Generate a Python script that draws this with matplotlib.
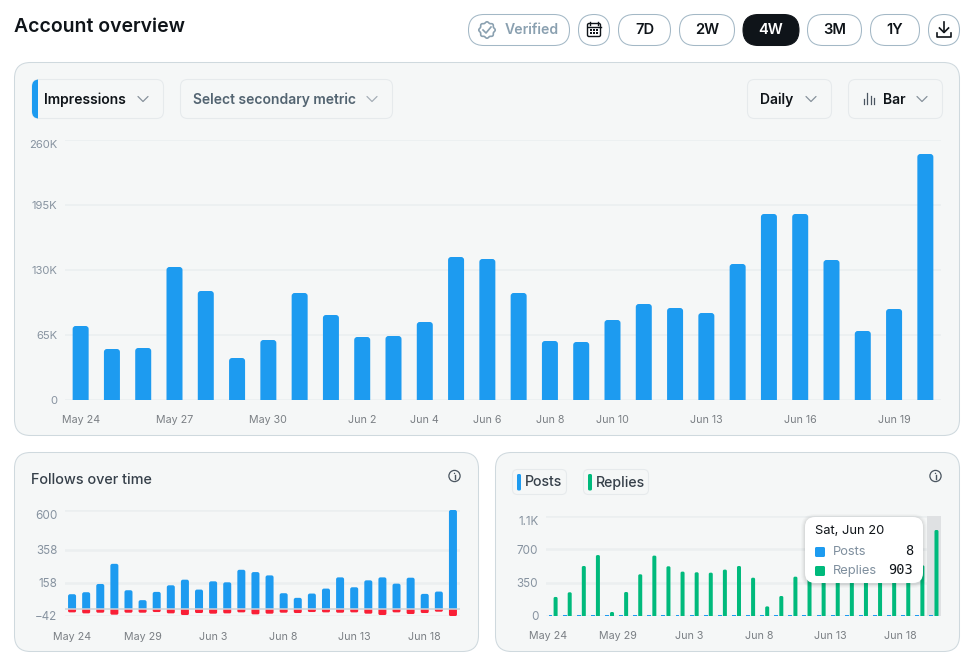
import numpy as np
import matplotlib
matplotlib.use('Agg')
import matplotlib.pyplot as plt
from matplotlib.patches import FancyBboxPatch, Rectangle, Circle, PathPatch, Polygon
from matplotlib.path import Path

plt.rcParams['font.family'] = ['Inter', 'DejaVu Sans']

W, H = 973, 660

# impressions per day, May 24 to Jun 20
impressions = [74, 51, 52, 133, 109, 42, 60, 107, 85, 63, 64, 78, 143, 141,
               107, 59, 58, 80, 96, 92, 87, 136, 186, 186, 140, 69, 91, 246]
impressions = [v * 1000 for v in impressions]
imp_ticks = [0, 65000, 130000, 195000, 260000]
imp_tick_labels = ['0', '65K', '130K', '195K', '260K']
imp_date_idx = [0, 3, 6, 9, 11, 13, 15, 17, 20, 23, 26]
imp_date_labels = ['May 24', 'May 27', 'May 30', 'Jun 2', 'Jun 4', 'Jun 6',
                   'Jun 8', 'Jun 10', 'Jun 13', 'Jun 16', 'Jun 19']

follows = [90, 102, 152, 274, 114, 54, 104, 144, 178, 118, 168, 162, 238, 224,
           204, 96, 68, 94, 124, 192, 132, 174, 192, 154, 190, 92, 106, 600]
unfollows = [-20, -26, -22, -34, -22, -22, -18, -26, -36, -24, -28, -26, -20, -32,
             -28, -22, -24, -18, -20, -22, -20, -28, -36, -20, -30, -24, -16, -42]
follow_ticks = [-42, 158, 358, 600]

posts = [9, 7, 10, 8, 6, 9, 8, 7, 10, 9, 8, 7, 12, 9,
         8, 7, 6, 9, 10, 8, 9, 7, 8, 9, 8, 7, 9, 8]
replies = [200, 249, 525, 640, 42, 252, 438, 634, 522, 466, 459, 455, 487, 525,
           402, 101, 210, 413, 450, 470, 500, 480, 460, 470, 490, 500, 532, 903]
reply_ticks = [0, 350, 700, 1050]
reply_tick_labels = ['0', '350', '700', '1.1K']

small_date_idx = [0, 5, 10, 15, 20, 25]
small_date_labels = ['May 24', 'May 29', 'Jun 3', 'Jun 8', 'Jun 13', 'Jun 18']

BLUE = '#1d9bf0'
GREEN = '#00ba7c'
RED = '#f91f36'
INK = '#0f1419'
PANEL = '#f5f7f7'
BORDER = '#cfd9de'
PILL = '#a3b8c6'
GRID = '#ebeff0'
SLATE = '#536471'
AXIS_GREY = '#8793a0'
DATE_GREY = '#7a7f84'

fig = plt.figure(figsize=(W / 100, H / 100), dpi=100, facecolor='white')


def pixel_axes(zorder):
    ax = fig.add_axes([0, 0, 1, 1], zorder=zorder)
    ax.set_xlim(0, W)
    ax.set_ylim(H, 0)
    ax.axis('off')
    ax.patch.set_alpha(0)
    return ax


def chart_axes(x0, x1, y0, y1):
    # position given in figure pixels, y measured from the top
    ax = fig.add_axes([x0 / W, 1 - y1 / H, (x1 - x0) / W, (y1 - y0) / H], zorder=1)
    ax.patch.set_alpha(0)
    for s in ax.spines.values():
        s.set_visible(False)
    ax.tick_params(length=0, pad=0)
    ax.set_axisbelow(True)
    return ax


def box(ax, x0, y0, x1, y1, r, fc, ec='none', lw=0.75, **kw):
    p = FancyBboxPatch((x0 + r, y0 + r), x1 - x0 - 2 * r, y1 - y0 - 2 * r,
                       boxstyle='round,pad=%f,rounding_size=%f' % (r, r),
                       fc=fc, ec=ec, lw=lw, **kw)
    ax.add_patch(p)
    return p


def rounded_bars(ax, xs, values, width, radius_px, color, px_per_x, px_per_y):
    # bars rounded at the far end, the radius is given in pixels
    rx = radius_px / px_per_x
    ry = radius_px / px_per_y
    for x, v in zip(xs, values):
        s = 1 if v >= 0 else -1
        l, r = x - width / 2, x + width / 2
        yr = s * min(ry, abs(v))
        verts = [(l, 0), (l, v - yr), (l, v), (l + rx, v), (r - rx, v), (r, v), (r, v - yr),
                 (r, 0), (l, 0)]
        codes = [Path.MOVETO, Path.LINETO, Path.CURVE3, Path.CURVE3, Path.LINETO,
                 Path.CURVE3, Path.CURVE3, Path.LINETO, Path.CLOSEPOLY]
        ax.add_patch(PathPatch(Path(verts, codes), fc=color, ec='none', zorder=3, clip_on=False))


def chevron(ax, cx, cy, color='#87919b'):
    ax.plot([cx - 5, cx, cx + 5], [cy - 2.5, cy + 2.5, cy - 2.5], color=color, lw=0.9,
            solid_capstyle='round', solid_joinstyle='round')


def info_icon(ax, cx, cy):
    ax.add_patch(Circle((cx, cy), 5.6, fc='none', ec='#4a5560', lw=0.9))
    ax.plot([cx, cx], [cy - 0.6, cy + 2.8], color='#4a5560', lw=1)
    ax.add_patch(Circle((cx, cy - 2.6), 0.7, fc='#4a5560', ec='none'))


bg = pixel_axes(0)

bg.text(14, 26.5, 'Account overview', fontsize=14, fontweight='semibold', color=INK, va='center')

# header pills
box(bg, 468.5, 14.5, 569.5, 45.5, 15.5, 'white', PILL)
t = np.linspace(0, 2 * np.pi, 200)
rad = 7.6 + 0.6 * np.cos(8 * t)
bg.add_patch(Polygon(np.c_[487 + rad * np.cos(t), 30 + rad * np.sin(t)], closed=True,
                     fc='none', ec='#8aa0b0', lw=1.2))
bg.plot([483, 486, 491], [30, 33, 27], color='#8aa0b0', lw=1.2)
bg.text(505, 30.5, 'Verified', fontsize=10.1, fontweight='semibold', color='#8aa0b0', va='center')

box(bg, 578.5, 14.5, 609.5, 45.5, 15.5, 'white', PILL)
box(bg, 587.5, 23.5, 600.5, 36.5, 1.5, 'none', INK, 1)
bg.plot([587.5, 600.5], [26.5, 26.5], color=INK, lw=1)
bg.plot([590, 590], [22, 24.5], color=INK, lw=1)
bg.plot([598, 598], [22, 24.5], color=INK, lw=1)
for px in [591, 594, 597]:
    for py in [30, 33]:
        bg.add_patch(Rectangle((px - 0.6, py - 0.6), 1.2, 1.2, fc=INK, ec='none'))

range_names = ['7D', '2W', '4W', '3M', '1Y']
range_left = [618.5, 679.5, 743, 807.5, 870.5]
range_right = [670.5, 734.5, 799, 861.5, 919.5]
for name, x0, x1 in zip(range_names, range_left, range_right):
    active = name == '4W'
    box(bg, x0, 14.5, x1, 45.5, 15.5, INK if active else 'white', INK if active else PILL)
    bg.text((x0 + x1) / 2, 30.5, name, fontsize=10.6, fontweight='semibold',
            color='white' if active else INK, ha='center', va='center')

box(bg, 928.5, 14.5, 959.5, 45.5, 15.5, 'white', PILL)
bg.plot([944, 944], [22, 32], color=INK, lw=1.2)
bg.plot([939.5, 944, 948.5], [28, 32.5, 28], color=INK, lw=1.2)
bg.plot([937, 937, 951, 951], [33, 37, 37, 33], color=INK, lw=1.2)

# panels
box(bg, 14.5, 62.5, 959.5, 435.5, 16, PANEL, BORDER)
box(bg, 14.5, 452.5, 478.5, 651.5, 16, PANEL, BORDER)
box(bg, 495.5, 452.5, 959.5, 651.5, 16, PANEL, BORDER)

# dropdowns in the main panel
DROP_EDGE = '#e6eaec'
box(bg, 32, 79.5, 163.5, 118.5, 7, PANEL, DROP_EDGE)
strip = box(bg, 32, 79.5, 50, 118.5, 7, BLUE)
strip.set_clip_path(Rectangle((32, 79), 6, 40, transform=bg.transData))
bg.text(44, 99.5, 'Impressions', fontsize=10, fontweight='semibold', color=INK, va='center')
chevron(bg, 143, 99)
box(bg, 180.5, 79.5, 392.5, 118.5, 7, PANEL, DROP_EDGE)
bg.text(193, 99.5, 'Select secondary metric', fontsize=10, fontweight='semibold', color=SLATE, va='center')
chevron(bg, 372, 99, '#a5aeb6')
box(bg, 747.5, 79.5, 831.5, 118.5, 7, PANEL, DROP_EDGE)
bg.text(760, 99.5, 'Daily', fontsize=10, fontweight='semibold', color=INK, va='center')
chevron(bg, 811, 99)
box(bg, 848.5, 79.5, 942.5, 118.5, 7, PANEL, DROP_EDGE)
for px, top in zip([863.5, 867, 870.5, 873.5], [99, 93, 96, 98]):
    bg.plot([px, px], [top, 104], color='#4a5560', lw=0.9)
bg.text(883, 99.5, 'Bar', fontsize=10, fontweight='semibold', color=INK, va='center')
chevron(bg, 922, 99)

# lower panel headers
bg.text(31, 479.5, 'Follows over time', fontsize=10.4, fontweight='medium', color='#36404a', va='center')
info_icon(bg, 454.5, 476)
info_icon(bg, 935.5, 476)
box(bg, 512.5, 469.5, 566.5, 494.5, 5, PANEL, DROP_EDGE)
box(bg, 517, 474, 521, 490.5, 1.5, BLUE)
bg.text(525, 482.5, 'Posts', fontsize=10.2, fontweight='medium', color='#36404a', va='center')
box(bg, 583.5, 469.5, 648.5, 494.5, 5, PANEL, DROP_EDGE)
box(bg, 588, 474, 592, 490.5, 1.5, GREEN)
bg.text(596, 482.5, 'Replies', fontsize=10.2, fontweight='medium', color='#36404a', va='center')

days = np.arange(len(impressions))

# impressions
ax = chart_axes(65, 941, 140, 400)
ax.set_xlim(-0.5, 27.5)
ax.set_ylim(0, 260000)
ax.set_yticks(imp_ticks, imp_tick_labels, fontsize=8.1, color=AXIS_GREY)
ax.set_xticks(imp_date_idx, imp_date_labels, fontsize=7.7, color=DATE_GREY)
ax.tick_params(axis='x', pad=11)
ax.tick_params(axis='y', pad=5.5)
ax.yaxis.grid(True, color=GRID, lw=1.2)
ax.yaxis.get_ticklabels()[-1].set_verticalalignment('top')
rounded_bars(ax, days, impressions, 16 / (876 / 28), 3, BLUE, 876 / 28, 260 / 260000)

# follows and unfollows
ax = chart_axes(65, 460, 510, 616)
ax.set_xlim(-0.5, 27.5)
ax.set_ylim(-42, 600)
ax.set_yticks(follow_ticks, [str(v).replace('-', '\u2212') if v < 0 else str(v) for v in follow_ticks],
              fontsize=8.4, color=AXIS_GREY)
ax.set_xticks(small_date_idx, small_date_labels, fontsize=7.7, color=DATE_GREY)
ax.tick_params(axis='x', pad=11.5)
ax.tick_params(axis='y', pad=5.5)
ax.yaxis.grid(True, color=GRID, lw=1.8)
ax.yaxis.get_ticklabels()[-1].set_verticalalignment('top')
sy = 106 / 642
rounded_bars(ax, days, follows, 8 / (395 / 28), 2, BLUE, 395 / 28, sy)
rounded_bars(ax, days, unfollows, 8 / (395 / 28), 1.5, RED, 395 / 28, sy)
ax.axhline(0, color='#cdd3d8', lw=1.1, zorder=4)

# posts and replies
ax = chart_axes(546, 941, 516, 616)
ax.set_xlim(-0.5, 27.5)
ax.set_ylim(0, 1050)
ax.axvspan(26.5, 27.5, color='#dfe1e3', lw=0, zorder=1)
ax.set_yticks(reply_ticks, reply_tick_labels, fontsize=8.4, color=AXIS_GREY)
ax.set_xticks(np.array(small_date_idx) - 0.38, small_date_labels, fontsize=7.7, color=DATE_GREY)
ax.tick_params(axis='x', pad=10.5)
ax.tick_params(axis='y', pad=5.5)
ax.yaxis.grid(True, color=GRID, lw=1.8)
ax.yaxis.get_ticklabels()[-1].set_verticalalignment('top')
ax.bar(days - 0.18, posts, width=0.28, color=BLUE, zorder=3, clip_on=False)
rounded_bars(ax, days + 0.18, replies, 4 / (395 / 28), 1.5, GREEN, 395 / 28, 100 / 1050)

# tooltip sits on top of the charts
fg = pixel_axes(5)
for grow, alpha in [(4, 0.02), (3, 0.025), (2, 0.03), (1, 0.04)]:
    box(fg, 805 - grow, 517 - grow + 1, 923 + grow, 583 + grow + 1, 10 + grow, 'black', alpha=alpha)
box(fg, 805, 517, 923, 583, 10, 'white')
fg.text(815, 531, 'Sat, Jun 20', fontsize=9.3, color=INK, va='center')
box(fg, 815, 547, 825, 557, 1.5, BLUE)
box(fg, 815, 566, 825, 576, 1.5, GREEN)
fg.text(833, 552, 'Posts', fontsize=9.3, color='#7f8f9e', va='center')
fg.text(833, 571, 'Replies', fontsize=9.3, color='#7f8f9e', va='center')
fg.text(913, 551, str(posts[-1]), fontsize=9.8, color=INK, ha='right', va='center', family=['DejaVu Sans Mono'])
fg.text(913, 570, str(replies[-1]), fontsize=9.8, color=INK, ha='right', va='center', family=['DejaVu Sans Mono'])

fig.savefig('out.png', dpi=100)
